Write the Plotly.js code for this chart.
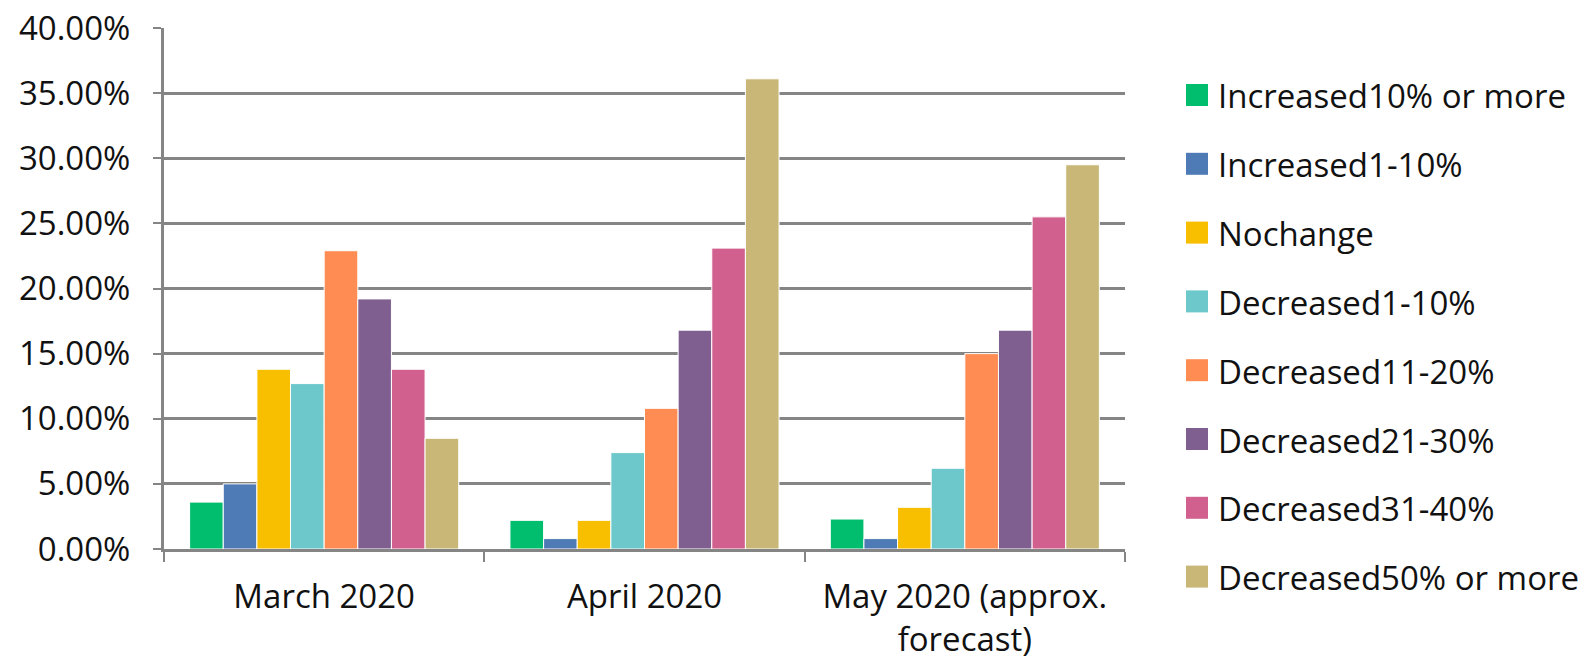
<!DOCTYPE html>
<html>
<head>
<meta charset="utf-8">
<script src="https://cdn.plot.ly/plotly-3.0.1.min.js"></script>
<style>
  html, body { margin: 0; padding: 0; background: #ffffff; }
  #chart { width: 1585px; height: 660px; }
</style>
</head>
<body>
<div id="chart"></div>
<script>
// Periods on the x axis
const periods = ["March 2020", "April 2020", "May 2020 (approx.<br>forecast)"];

// Revenue change buckets (one bar series each)
const seriesNames = [
  "Increased10% or more",
  "Increased1-10%",
  "Nochange",
  "Decreased1-10%",
  "Decreased11-20%",
  "Decreased21-30%",
  "Decreased31-40%",
  "Decreased50% or more"
];

// Share of respondents per bucket, for March / April / May
const increased10More = [0.036, 0.022, 0.023];
const increased1to10  = [0.050, 0.008, 0.008];
const noChange        = [0.138, 0.022, 0.032];
const decreased1to10  = [0.127, 0.074, 0.062];
const decreased11to20 = [0.229, 0.108, 0.150];
const decreased21to30 = [0.192, 0.168, 0.168];
const decreased31to40 = [0.138, 0.231, 0.255];
const decreased50More = [0.085, 0.361, 0.295];

const seriesValues = [
  increased10More, increased1to10, noChange, decreased1to10,
  decreased11to20, decreased21to30, decreased31to40, decreased50More
];

const seriesColors = [
  "#00BE6E", "#4E7BB5", "#F8BE00", "#6CC8CB",
  "#FF8C52", "#7E5F8F", "#D2608E", "#C9B778"
];

const FONT = "'Open Sans', 'Noto Sans', sans-serif";
const FONT_SIZE = 33;
const GRID = "#858585";

const traces = seriesNames.map((name, i) => ({
  type: "bar",
  name: name,
  x: periods,
  y: seriesValues[i],
  marker: { color: seriesColors[i], line: { color: "#ffffff", width: 1 } },
  hovertemplate: "%{x}<br>" + name + ": %{y:.2%}<extra></extra>"
}));

// Hand-built legend on the right: square swatch + label per series
const plotLeft = 164, plotRight = 1125, plotTop = 28, plotBottom = 549;
const pw = plotRight - plotLeft, ph = plotBottom - plotTop;
const toPX = px => (px - plotLeft) / pw;
const toPY = py => (plotBottom - py) / ph;

const legendTop = 95, legendStep = 68.8, swatch = 22, swatchLeft = 1186, textLeft = 1216;
const shapes = [];
const annotations = [];
seriesNames.forEach((name, i) => {
  const cy = legendTop + i * legendStep;
  shapes.push({
    type: "rect", xref: "paper", yref: "paper",
    x0: toPX(swatchLeft), x1: toPX(swatchLeft + swatch),
    y0: toPY(cy + swatch / 2), y1: toPY(cy - swatch / 2),
    fillcolor: seriesColors[i], line: { width: 0 }
  });
  annotations.push({
    xref: "paper", yref: "paper",
    x: toPX(textLeft), y: toPY(cy + 1),
    xanchor: "left", yanchor: "middle",
    text: name, showarrow: false,
    font: { family: FONT, size: FONT_SIZE, color: "#111111" }
  });
});

const layout = {
  width: 1585,
  height: 660,
  paper_bgcolor: "#ffffff",
  plot_bgcolor: "#ffffff",
  margin: { l: plotLeft, r: 1585 - plotRight, t: plotTop, b: 660 - plotBottom, pad: 0 },
  barmode: "group",
  bargap: 0.16,
  bargroupgap: 0,
  showlegend: false,
  font: { family: FONT, size: FONT_SIZE, color: "#111111" },
  xaxis: {
    type: "category",
    showline: true, linecolor: GRID, linewidth: 3,
    ticks: "outside", tickson: "boundaries", ticklen: 10, tickwidth: 2, tickcolor: GRID,
    showgrid: false,
    tickfont: { family: FONT, size: FONT_SIZE, color: "#111111" },
    ticklabelstandoff: 16,
    fixedrange: true
  },
  yaxis: {
    range: [0, 0.40],
    dtick: 0.05,
    tickformat: ".2%",
    showline: true, linecolor: GRID, linewidth: 3,
    ticks: "outside", ticklen: 8, tickwidth: 2, tickcolor: GRID,
    showgrid: true, gridcolor: GRID, gridwidth: 3,
    zeroline: false,
    tickfont: { family: FONT, size: FONT_SIZE, color: "#111111" },
    ticklabelstandoff: 16,
    fixedrange: true
  },
  shapes: shapes,
  annotations: annotations
};

Plotly.newPlot("chart", traces, layout, { displayModeBar: false, staticPlot: true });
</script>
</body>
</html>
